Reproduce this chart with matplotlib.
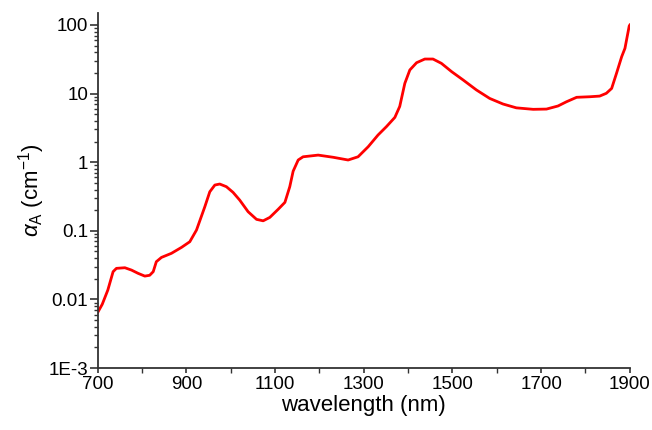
import matplotlib
matplotlib.use("Agg")
import matplotlib.pyplot as plt
from matplotlib.ticker import FixedLocator, FixedFormatter, LogLocator, NullFormatter, MultipleLocator

plt.rcParams['font.family'] = ['Liberation Sans', 'DejaVu Sans']
plt.rcParams['mathtext.fontset'] = 'custom'
plt.rcParams['mathtext.rm'] = 'Liberation Sans'
plt.rcParams['mathtext.it'] = 'Liberation Sans:italic'

wavelength = [700, 710, 722.6, 734.5, 742, 761, 776, 791, 806, 817, 825, 832, 843.6, 866,
              888.8, 907.5, 922.6, 941.4, 952.6, 964, 975, 990, 1005, 1020, 1039, 1058, 1073,
              1088, 1106.8, 1122, 1133, 1140.6, 1152, 1163, 1197, 1231, 1264.6, 1287, 1309.8,
              1332, 1351, 1370, 1381, 1392.5, 1403.8, 1419, 1437.6, 1456, 1475, 1498, 1524,
              1554, 1584, 1614, 1644, 1682, 1712, 1738, 1757, 1780, 1810, 1832, 1847, 1859,
              1870, 1881.6, 1889, 1894, 1898.6, 1900]
alpha = [0.0065, 0.0085, 0.0137, 0.0254, 0.0284, 0.029, 0.0268, 0.024, 0.0219, 0.0225,
         0.0254, 0.0355, 0.041, 0.047, 0.0574, 0.0694, 0.1027, 0.2246, 0.371, 0.465, 0.481,
         0.44, 0.364, 0.281, 0.19, 0.147, 0.140, 0.157, 0.206, 0.26, 0.44, 0.74, 1.077, 1.20,
         1.27, 1.18, 1.077, 1.2, 1.68, 2.49, 3.3, 4.5, 6.5, 14.1, 22.1, 28.2, 31.9, 31.9,
         27.6, 20.9, 15.8, 11.3, 8.5, 7.05, 6.2, 5.9, 5.95, 6.6, 7.6, 8.83, 9.0, 9.2, 10.1,
         11.9, 19.8, 34.5, 45.7, 67.6, 96.6, 100]

xticks = [700, 900, 1100, 1300, 1500, 1700, 1900]
yticks = [1e-3, 1e-2, 1e-1, 1, 10, 100]
ytick_labels = ['1E-3', '0.01', '0.1', '1', '10', '100']

fig = plt.figure(figsize=(6.52, 4.30), dpi=100)
ax = fig.add_axes([0.150, 0.144, 0.816, 0.826])
ax.plot(wavelength, alpha, color='#ff0000', lw=2.0, solid_joinstyle='round')
ax.set_yscale('log')
ax.set_xlim(700, 1900)
ax.set_ylim(1e-3, 150)

ax.xaxis.set_major_locator(FixedLocator(xticks))
ax.xaxis.set_minor_locator(MultipleLocator(100))
ax.yaxis.set_major_locator(FixedLocator(yticks))
ax.yaxis.set_major_formatter(FixedFormatter(ytick_labels))
ax.yaxis.set_minor_locator(LogLocator(base=10, subs=range(2, 10)))
ax.yaxis.set_minor_formatter(NullFormatter())

for s in ['top', 'right']:
    ax.spines[s].set_visible(False)
for s in ['left', 'bottom']:
    ax.spines[s].set_linewidth(1.3)
    ax.spines[s].set_color('#333333')

ax.tick_params(axis='y', which='major', direction='out', length=5.8, width=1.2, pad=1,
               labelsize=13.5, colors='#333333', labelcolor='black')
ax.tick_params(axis='y', which='minor', direction='out', length=3, width=1.0, colors='#333333')
ax.tick_params(axis='x', which='major', direction='out', length=3.5, width=1.2, pad=2,
               labelsize=13.5, colors='#333333', labelcolor='black')
ax.tick_params(axis='x', which='minor', direction='out', length=3.5, width=1.0, colors='#333333')

ax.set_xlabel('wavelength (nm)', fontsize=16, labelpad=2)
ax.set_ylabel(r'$\alpha_{\mathrm{A}}$ (cm$^{-1}$)', fontsize=16, labelpad=1)

fig.savefig('out.png', dpi=100)
